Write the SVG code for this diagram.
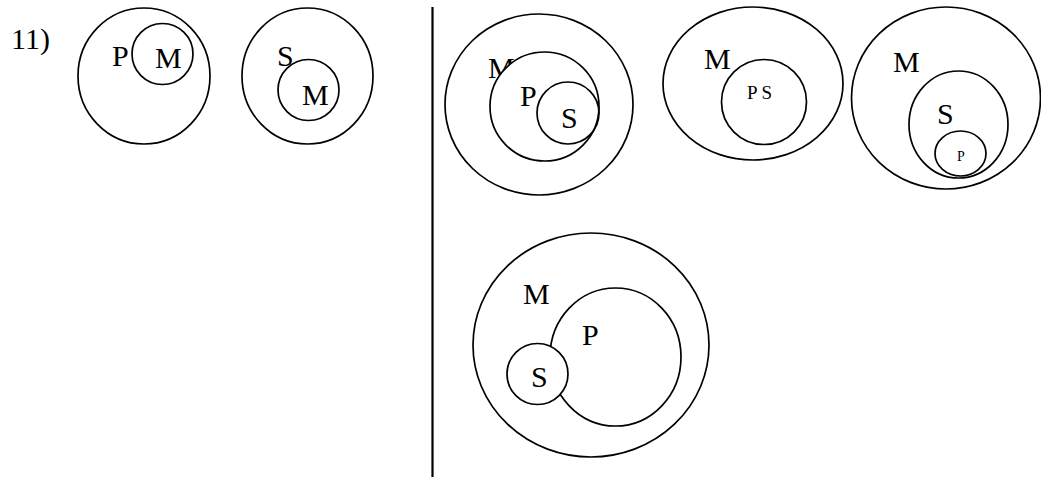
<svg xmlns="http://www.w3.org/2000/svg" width="1041" height="477" viewBox="0 0 1041 477">
<style>
.c{fill:none;stroke:#000;stroke-width:1.7}
.w{fill:#fff;stroke:#000;stroke-width:1.7}
.t{font-family:"Liberation Serif","Times New Roman",serif;font-size:30px;fill:#000}
.s{font-family:"Liberation Serif","Times New Roman",serif;font-size:19px;fill:#000}
.xs{font-family:"Liberation Serif","Times New Roman",serif;font-size:14px;fill:#000}
</style>
<rect width="1041" height="477" fill="#fff"/>
<text class="t" x="11" y="49" font-size="26">11)</text>
<g id="d1">
<ellipse class="c" cx="144" cy="76" rx="66" ry="68"/>
<circle class="c" cx="162.5" cy="54" r="30.5"/>
<text class="t" x="112" y="66">P</text>
<text class="t" x="155" y="68">M</text>
</g>
<g id="d2">
<ellipse class="c" cx="307.5" cy="76" rx="65.5" ry="68"/>
<circle class="c" cx="308.5" cy="90" r="30.5"/>
<text class="t" x="277" y="66">S</text>
<text class="t" x="302" y="105">M</text>
</g>
<g id="connectors">
<line x1="432.5" y1="7" x2="432.5" y2="477" stroke="#000" stroke-width="2.2"/>
</g>
<g id="d3">
<ellipse class="c" cx="539" cy="104.5" rx="94" ry="90.5"/>
<text class="t" x="488" y="78">M</text>
<circle class="w" cx="544.5" cy="106.5" r="54.5"/>
<circle class="c" cx="568" cy="113" r="31"/>
<text class="t" x="520" y="106">P</text>
<text class="t" x="561" y="128">S</text>
</g>
<g id="d4">
<ellipse class="c" cx="753" cy="83.5" rx="90" ry="76.5"/>
<circle class="c" cx="764" cy="102" r="42.5"/>
<text class="t" x="704" y="69">M</text>
<text class="s" x="747" y="99">P S</text>
</g>
<g id="d5">
<ellipse class="c" cx="946" cy="98" rx="94.5" ry="91"/>
<ellipse class="c" cx="958.5" cy="124.5" rx="49.5" ry="53.5"/>
<ellipse class="c" cx="960.5" cy="153.5" rx="25.5" ry="22.5"/>
<text class="t" x="893" y="72">M</text>
<text class="t" x="937" y="124">S</text>
<text class="xs" x="957" y="161">P</text>
</g>
<g id="d6">
<ellipse class="c" cx="591" cy="345" rx="118" ry="112"/>
<ellipse class="c" cx="615.5" cy="357" rx="65.5" ry="69"/>
<circle class="w" cx="537.5" cy="374" r="30.5"/>
<text class="t" x="523" y="304">M</text>
<text class="t" x="582" y="345">P</text>
<text class="t" x="531" y="387">S</text>
</g>
</svg>
